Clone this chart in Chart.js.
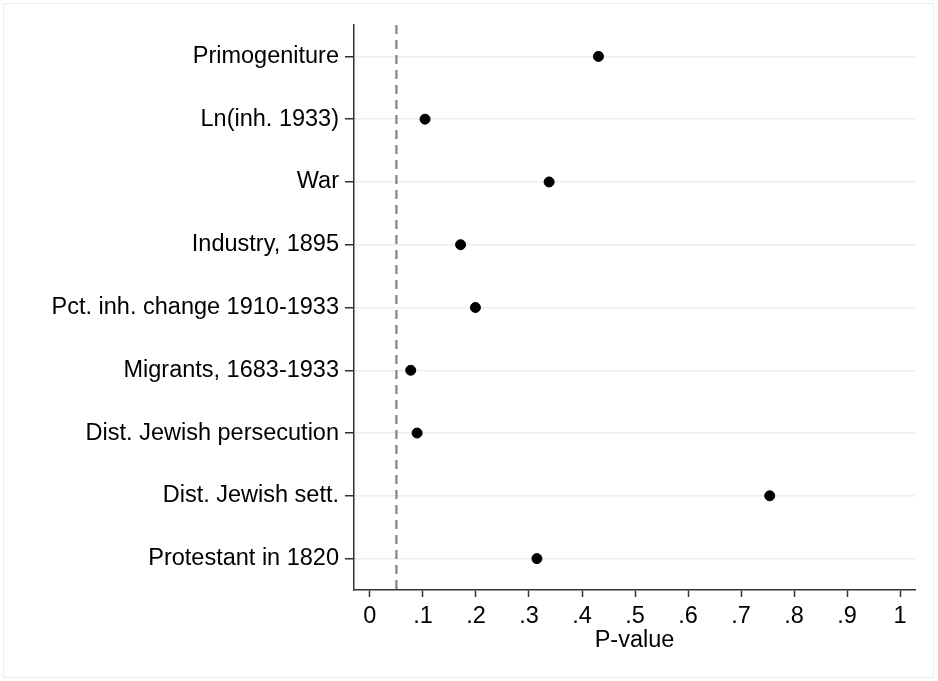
<!DOCTYPE html>
<html>
<head>
<meta charset="utf-8">
<script src="https://cdn.jsdelivr.net/npm/chart.js@4"></script>
<style>
  html, body { margin: 0; padding: 0; background: #fff; }
  #wrap { width: 938px; height: 681px; }
</style>
</head>
<body>
<div id="wrap"><canvas id="pChart" width="938" height="681"></canvas></div>
<script>
const categories = [
    "Primogeniture",
    "Ln(inh. 1933)",
    "War",
    "Industry, 1895",
    "Pct. inh. change 1910-1933",
    "Migrants, 1683-1933",
    "Dist. Jewish persecution",
    "Dist. Jewish sett.",
    "Protestant in 1820"
];
const pValues = [0.431, 0.104, 0.338, 0.171, 0.199, 0.077, 0.089, 0.754, 0.315];
const xTicks = [0, 0.1, 0.2, 0.3, 0.4, 0.5, 0.6, 0.7, 0.8, 0.9, 1];
const threshold = 0.05;

const FONT = "'Liberation Sans', Arial, sans-serif";

// light frame round the whole picture, like Stata's graph region
const frame = {
    id: "frame",
    beforeDraw(c) {
        const ctx = c.ctx;
        ctx.save();
        ctx.fillStyle = "#fff";
        ctx.fillRect(0, 0, c.width, c.height);
        ctx.strokeStyle = "#e6eef0";
        ctx.lineWidth = 1;
        ctx.strokeRect(3.5, 3.5, 930, 674);
        ctx.restore();
    }
};

const points = pValues.map((v, i) => ({ x: v, y: i + 1 }));

new Chart(document.getElementById("pChart"), {
    type: "scatter",
    data: {
        datasets: [{
            label: "P-value",
            data: points,
            backgroundColor: "#000",
            borderColor: "#000",
            pointRadius: 5,
            pointHoverRadius: 5
        }, {
            type: "line",
            label: "0.05",
            data: [{ x: threshold, y: 0.5 }, { x: threshold, y: categories.length + 0.5 }],
            borderColor: "#848484",
            borderWidth: 2.2,
            borderDash: [9, 6],
            pointRadius: 0
        }]
    },
    options: {
        responsive: false,
        animation: false,
        layout: { padding: { top: 25, right: 23, bottom: 26, left: 0 } },
        plugins: {
            legend: { display: false },
            tooltip: { enabled: false }
        },
        scales: {
            x: {
                type: "linear",
                min: -0.03,
                max: 1.028,
                afterBuildTicks: s => { s.ticks = xTicks.map(v => ({ value: v })); },
                ticks: {
                    color: "#000",
                    font: { family: FONT, size: 23.5 },
                    padding: 5,
                    maxRotation: 0,
                    callback: v => v === 0 ? "0" : v === 1 ? "1" : v.toFixed(1).replace("0.", ".")
                },
                grid: { display: true, drawOnChartArea: false, tickLength: 7, tickColor: "#333", tickWidth: 1.5 },
                border: { color: "#333", width: 1.5 },
                title: {
                    display: true,
                    text: "P-value",
                    color: "#000",
                    font: { family: FONT, size: 23.5 },
                    padding: { top: 0, bottom: 0 }
                },
                afterFit: s => { s.height = 65; }
            },
            y: {
                type: "linear",
                reverse: true,
                min: 0.5,
                max: categories.length + 0.5,
                afterBuildTicks: s => { s.ticks = categories.map((c, i) => ({ value: i + 1 })); },
                ticks: {
                    color: "#000",
                    font: { family: FONT, size: 23.5 },
                    padding: 6,
                    callback: v => categories[v - 1]
                },
                grid: { color: "#e8f0f2", lineWidth: 1.5, tickLength: 9, tickColor: "#333", tickWidth: 1.5 },
                border: { color: "#333", width: 1.5 },
                afterFit: s => { s.width = 354; }
            }
        }
    },
    plugins: [frame]
});
</script>
</body>
</html>
